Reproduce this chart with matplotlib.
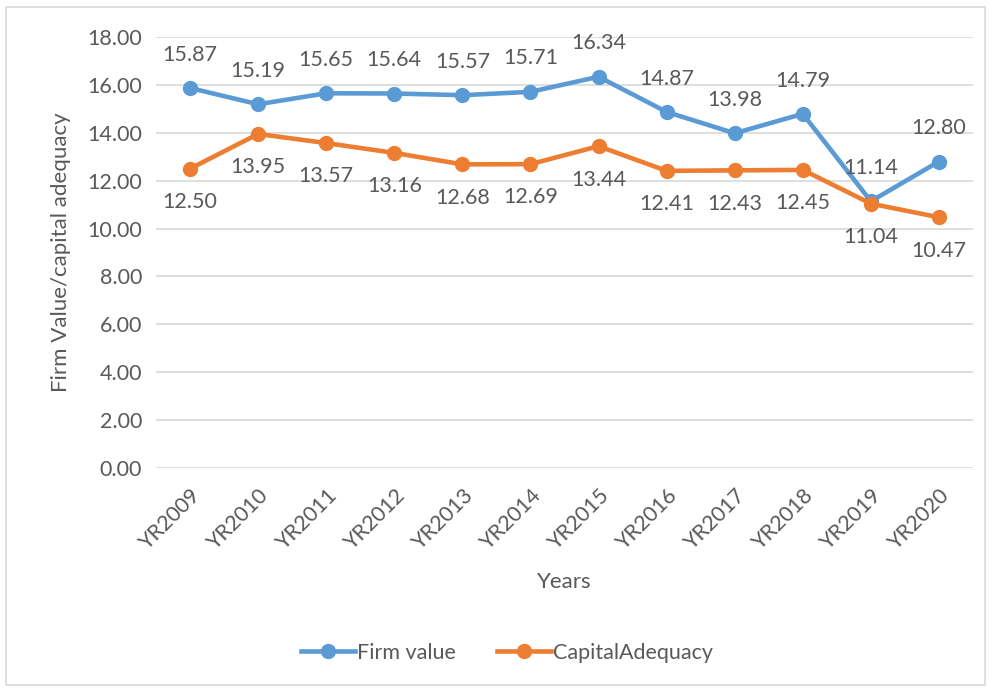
#!/usr/bin/env python3

import matplotlib.pyplot as plt
from matplotlib.patches import Rectangle

years = ["YR2009", "YR2010", "YR2011", "YR2012", "YR2013", "YR2014",
         "YR2015", "YR2016", "YR2017", "YR2018", "YR2019", "YR2020"]
firm_value = [15.87, 15.19, 15.65, 15.64, 15.57, 15.71,
              16.34, 14.87, 13.98, 14.79, 11.14, 12.80]
capital_adequacy = [12.50, 13.95, 13.57, 13.16, 12.68, 12.69,
                    13.44, 12.41, 12.43, 12.45, 11.04, 10.47]
y_ticks = [0, 2, 4, 6, 8, 10, 12, 14, 16, 18]

TEXT = "#595959"
BLUE = "#5B9BD5"
ORANGE = "#ED7D31"
FS = 15.5

plt.rcParams['font.family'] = ['Lato', 'DejaVu Sans']

fig = plt.figure(figsize=(9.9, 6.88), dpi=100)
ax = fig.add_axes([156 / 990, 1 - 468 / 688, (973 - 156) / 990, (468 - 37) / 688])

# chart border
fig.patches.append(Rectangle((6 / 990, 3 / 688), 979 / 990, 678 / 688,
                             transform=fig.transFigure, fill=False,
                             edgecolor="#D9D9D9", linewidth=1.2))

x = range(len(years))
ax.plot(x, firm_value, color=BLUE, lw=3.3, marker='o', ms=10,
        label="Firm value", zorder=3)
ax.plot(x, capital_adequacy, color=ORANGE, lw=3.3, marker='o', ms=10,
        label="CapitalAdequacy", zorder=3)

for i, v in enumerate(firm_value):
    ax.annotate(f"{v:.2f}", (i, v), xytext=(0, 24), textcoords='offset points',
                ha='center', va='center', fontsize=FS, color=TEXT)
for i, v in enumerate(capital_adequacy):
    ax.annotate(f"{v:.2f}", (i, v), xytext=(0, -24), textcoords='offset points',
                ha='center', va='center', fontsize=FS, color=TEXT)

ax.set_xlim(-0.5, len(years) - 0.5)
ax.set_ylim(0, 18)
ax.set_yticks(y_ticks)
ax.set_yticklabels([f"{t:.2f}" for t in y_ticks], fontsize=FS, color=TEXT)
ax.set_xticks(list(x))
ax.set_xticklabels(years, fontsize=FS, color=TEXT, rotation=45,
                   ha='right', rotation_mode='anchor')
ax.tick_params(length=0, pad=10)
ax.tick_params(axis='x', pad=13)
ax.grid(axis='y', color="#D9D9D9", lw=1.2)
ax.set_axisbelow(True)
for s in ax.spines.values():
    s.set_visible(False)

ax.set_xlabel("Years", fontsize=16, color=TEXT, labelpad=13)
ax.set_ylabel("Firm Value/capital adequacy", fontsize=16, color=TEXT, labelpad=12)

fig.legend(loc='center', bbox_to_anchor=(507 / 990, 1 - 653 / 688), ncol=2,
           frameon=False, fontsize=FS, labelcolor=TEXT, handlelength=2.5,
           columnspacing=1.9, handletextpad=0.1)

fig.savefig("out.png", dpi=100)
